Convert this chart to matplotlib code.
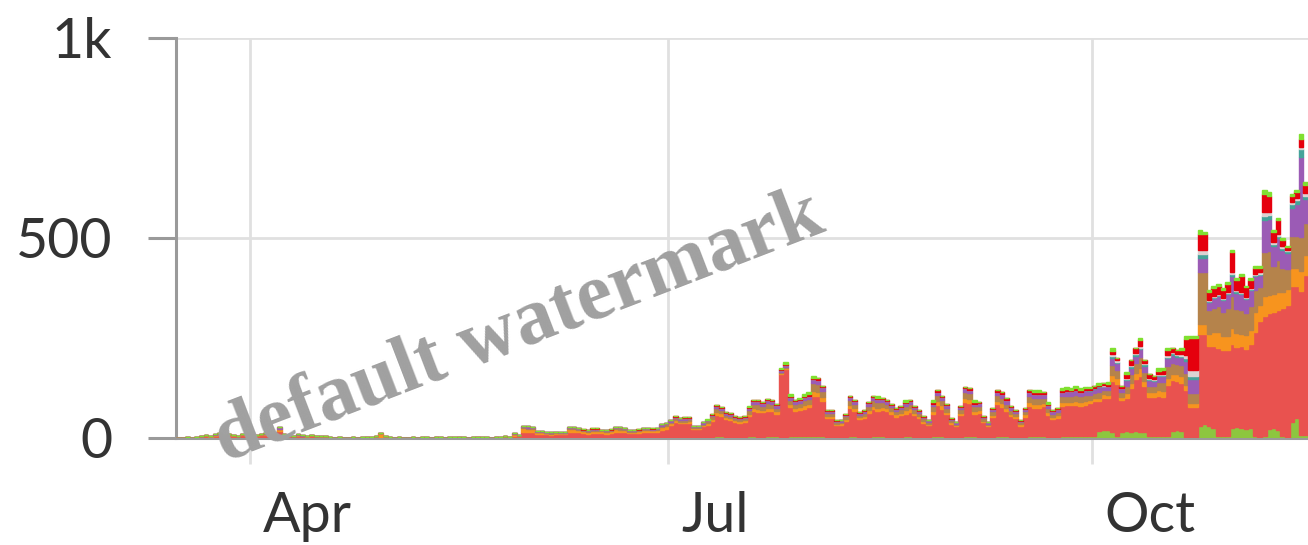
import numpy as np
import pandas as pd
import matplotlib
matplotlib.use('Agg')
import matplotlib.pyplot as plt
import matplotlib.dates as mdates
import matplotlib.transforms as mtrans

plt.rcParams['font.family'] = ['Lato', 'DejaVu Sans']

# daily values, one entry per day starting 16 Mar
green = ([0] * 73
         + [0, 0, 0, 0, 0, 1, 1, 1, 1, 1, 1, 1, 1, 1, 1, 1, 1, 1, 1, 1, 1, 1, 1, 1, 2, 2, 2, 2, 2, 2, 2, 2, 2, 2]
         + [2, 2, 2]
         + [3, 3, 2, 2, 2, 3, 3, 4, 4, 3]
         + [3, 3, 3, 3, 4, 4, 3, 3, 4, 4]
         + [4, 3, 3, 4, 4, 4, 4, 4, 4, 4]
         + [4, 3, 3, 2, 2, 3, 4, 4, 3, 3]
         + [3, 4, 4, 4, 3, 3, 3, 3, 4, 4]
         + [3, 3, 3, 2, 4, 4, 4, 3, 3, 2]
         + [3, 4, 4, 4, 3, 3, 2, 3, 4, 4]
         + [4, 3, 3, 2, 3, 4, 4, 4, 4, 3]
         + [3, 3, 5, 4, 4, 5, 4, 5]
         + [5, 5, 18, 20, 20, 15, 5, 15, 18, 15]
         + [18, 15, 15, 5, 6, 6, 5, 6, 18, 20]
         + [18, 2, 2, 2, 30, 35, 30, 25, 5, 5]
         + [5, 25, 28, 25, 22, 25, 5, 3, 5, 22]
         + [25, 20, 5, 3, 40, 50, 8, 8])

red = ([1, 1, 1, 1, 1]
       + [4, 5, 3, 6, 8, 5, 7, 5, 4, 7, 6, 9, 5, 7, 8, 5, 6, 18, 7, 5, 4, 6, 5, 3, 5, 4, 3, 3]
       + [1, 1, 1, 1, 1, 1, 1, 1, 2, 1, 2, 2, 2, 1, 1, 1, 1, 1, 1, 1, 1, 1, 1, 2, 1, 1, 1, 1, 2, 1, 1, 1, 2, 1, 1, 1, 2, 1, 2, 2]
       + [6, 4, 14, 14, 14, 9, 9, 8, 7, 8, 8, 8, 14, 14, 13, 11, 10, 12, 12, 11, 10, 11, 14, 14, 13, 10, 10, 11, 12, 12, 12, 13, 18, 20]
       + [31, 37, 35]
       + [34, 35, 20, 20, 27, 30, 40, 54, 52, 44]
       + [41, 37, 35, 37, 51, 63, 62, 61, 64, 64]
       + [56, 157, 169, 73, 63, 65, 69, 73, 101, 100]
       + [89, 46, 47, 30, 31, 40, 70, 63, 44, 47]
       + [60, 68, 63, 65, 65, 58, 50, 54, 57, 62]
       + [54, 46, 35, 30, 56, 78, 69, 56, 32, 27]
       + [54, 85, 83, 56, 60, 36, 27, 49, 80, 74]
       + [63, 51, 46, 28, 50, 77, 71, 71, 75, 54]
       + [44, 48, 76, 78, 78, 78, 77, 78]
       + [83, 87, 75, 81, 79, 128, 130, 79, 83, 109]
       + [129, 141, 114, 98, 96, 100, 98, 127, 126, 123]
       + [120, 117, 75, 75, 230, 225, 200, 205, 220, 215]
       + [215, 210, 200, 205, 200, 210, 260, 290, 300, 290]
       + [290, 300, 320, 330, 340, 330, 360, 400])

orange = ([0, 0, 1, 0, 1]
          + [1, 2, 1, 2, 2, 1, 2, 2, 1, 2, 2, 3, 2, 2, 2, 1, 2, 5, 2, 2, 1, 2, 1, 1, 2, 1, 1, 1]
          + [1, 0, 1, 0, 0, 1, 0, 1, 1, 1, 4, 10, 2, 1, 0, 1, 0, 0, 1, 0, 1, 1, 0, 1, 1, 0, 1, 1, 1, 1, 0, 1, 1, 1, 1, 0, 1, 1, 2, 1]
          + [3, 2, 10, 9, 8, 4, 4, 3, 3, 4, 3, 3, 7, 7, 6, 5, 4, 5, 5, 5, 4, 5, 7, 6, 6, 4, 4, 5, 5, 5, 5, 5, 7, 7]
          + [4, 5, 4]
          + [4, 4, 3, 3, 3, 4, 5, 7, 6, 5]
          + [5, 4, 4, 4, 6, 8, 8, 7, 8, 8]
          + [7, 3, 3, 8, 8, 8, 9, 9, 12, 12]
          + [10, 6, 6, 4, 4, 5, 8, 8, 5, 6]
          + [7, 8, 8, 8, 7, 7, 6, 6, 8, 8]
          + [6, 6, 5, 4, 8, 10, 9, 7, 4, 3]
          + [6, 10, 10, 8, 7, 4, 3, 6, 9, 9]
          + [8, 6, 5, 4, 6, 9, 9, 9, 9, 7]
          + [6, 6, 9, 9, 9, 10, 9, 10]
          + [8, 8, 8, 8, 8, 15, 14, 8, 12, 14]
          + [16, 18, 14, 12, 12, 14, 14, 18, 16, 16]
          + [16, 14, 10, 10, 25, 25, 30, 35, 40, 35]
          + [35, 40, 35, 30, 35, 35, 50, 40, 50, 45]
          + [45, 45, 40, 40, 45, 45, 50, 50])

brown = ([0] * 73
         + [1, 1, 3, 3, 3, 2, 2, 1, 1, 1, 1, 1, 3, 3, 3, 2, 2, 3, 3, 2, 2, 2, 3, 3, 2, 2, 2, 2, 3, 3, 2, 3, 4, 5]
         + [4, 5, 5]
         + [5, 5, 2, 2, 4, 5, 6, 9, 8, 6]
         + [6, 5, 5, 5, 8, 10, 12, 10, 12, 10]
         + [9, 3, 3, 10, 10, 10, 12, 12, 20, 20]
         + [15, 7, 7, 4, 4, 6, 12, 10, 6, 7]
         + [10, 14, 14, 12, 10, 9, 8, 9, 11, 11]
         + [9, 8, 6, 5, 11, 15, 12, 10, 5, 4]
         + [9, 16, 15, 11, 10, 6, 4, 9, 14, 13]
         + [11, 9, 8, 5, 8, 14, 15, 15, 13, 10]
         + [8, 8, 14, 15, 14, 15, 14, 15]
         + [12, 12, 14, 10, 12, 25, 22, 12, 18, 22]
         + [25, 28, 22, 16, 16, 20, 22, 28, 28, 26]
         + [28, 30, 25, 25, 130, 130, 60, 60, 65, 60]
         + [70, 80, 60, 60, 55, 60, 55, 45, 110, 110]
         + [70, 80, 60, 50, 80, 80, 85, 80])

purple = ([0] * 5
          + [1, 1, 1, 1, 2, 1, 1, 1, 1, 2, 1, 2, 1, 1, 2, 1, 1, 5, 1, 1, 1, 1, 1, 1, 1, 1, 0, 1]
          + [0] * 40
          + [2, 1, 2, 3, 2, 2, 1, 2, 2, 2, 2, 2, 2, 2, 2, 2, 2, 2, 2, 2, 2, 2, 2, 3, 2, 1, 1, 1, 2, 2, 2, 2, 3, 3]
          + [3, 4, 3]
          + [4, 4, 2, 2, 3, 3, 4, 6, 6, 5]
          + [5, 4, 4, 4, 6, 7, 7, 6, 7, 7]
          + [6, 4, 4, 8, 7, 7, 8, 8, 10, 10]
          + [9, 5, 5, 3, 3, 4, 8, 7, 5, 5]
          + [7, 8, 8, 8, 7, 6, 6, 6, 7, 7]
          + [6, 5, 4, 3, 7, 9, 8, 6, 4, 3]
          + [6, 9, 9, 7, 7, 4, 3, 6, 9, 9]
          + [10, 8, 6, 4, 6, 12, 12, 12, 10, 8]
          + [7, 7, 12, 12, 12, 12, 12, 12]
          + [10, 10, 12, 10, 10, 18, 16, 10, 14, 16]
          + [18, 20, 16, 14, 12, 15, 16, 20, 20, 18]
          + [20, 30, 35, 35, 35, 35, 20, 25, 25, 30]
          + [35, 50, 40, 40, 35, 40, 35, 30, 80, 80]
          + [50, 55, 45, 40, 70, 80, 200, 60])

teal = ([0] * 198
        + [2, 2, 2, 2, 2, 4, 4, 2, 3, 4]
        + [4, 4, 3, 3, 3, 3, 3, 4, 4, 4]
        + [4, 6, 8, 8, 10, 10, 3, 3, 3, 3]
        + [3, 5, 4, 3, 3, 3, 3, 3, 10, 10]
        + [5, 5, 5, 4, 10, 10, 20, 8])

grey = ([0] * 198
        + [0, 2, 0, 2, 0, 4, 3, 0, 2, 3]
        + [3, 4, 3, 2, 2, 3, 3, 4, 3, 3]
        + [3, 8, 15, 15, 10, 10, 2, 2, 3, 3]
        + [3, 5, 4, 3, 3, 3, 3, 3, 10, 8]
        + [5, 5, 5, 3, 5, 5, 5, 6])

crimson = ([0] * 73
           + [0, 0, 1, 1, 1, 0, 1, 0, 0, 0, 0, 0, 1, 1, 1, 1, 1, 1, 1, 0, 1, 1, 1, 1, 1, 1, 1, 1, 1, 1, 1, 1, 1, 1]
           + [1, 2, 1]
           + [2, 1, 1, 1, 1, 1, 2, 2, 2, 2]
           + [2, 2, 1, 2, 2, 3, 3, 3, 3, 2]
           + [3, 2, 2, 3, 3, 3, 3, 3, 4, 4]
           + [3, 3, 2, 2, 1, 2, 3, 3, 2, 2]
           + [3, 3, 3, 3, 3, 2, 2, 2, 3, 3]
           + [2, 2, 2, 1, 3, 4, 3, 3, 2, 1]
           + [2, 4, 4, 3, 3, 2, 1, 2, 4, 6]
           + [4, 3, 2, 2, 2, 4, 4, 4, 4, 3]
           + [2, 3, 4, 4, 4, 4, 4, 4]
           + [4, 4, 4, 4, 4, 8, 6, 4, 10, 12]
           + [12, 15, 8, 10, 8, 6, 8, 12, 10, 10]
           + [10, 40, 80, 80, 40, 40, 20, 20, 20, 20]
           + [20, 50, 25, 40, 25, 20, 15, 12, 45, 40]
           + [25, 35, 15, 7, 15, 15, 20, 20])

lime = ([0] * 110
        + [0, 0, 0, 0, 0, 2, 0, 0, 0, 0]
        + [0, 0, 0, 0, 3, 0, 0, 0, 0, 0]
        + [0, 3, 6, 4, 0, 3, 5, 6, 4, 0]
        + [0] * 10
        + [0, 0, 5, 0, 0, 0, 0, 0, 5, 0]
        + [0, 0, 0, 0, 6, 0, 0, 0, 0, 0]
        + [0, 0, 0, 6, 0, 0, 0, 0, 0, 0]
        + [0, 0, 0, 0, 0, 0, 5, 5, 0, 5]
        + [0, 0, 5, 6, 4, 6, 5, 4]
        + [4, 0, 4, 0, 5, 8, 0, 0, 5, 0]
        + [0, 5, 0, 0, 0, 8, 6, 6, 0, 0]
        + [6, 8, 5, 5, 10, 5, 5, 5, 4, 4]
        + [4, 5, 4, 4, 2, 4, 4, 4, 10, 10]
        + [5, 5, 5, 3, 5, 5, 12, 8])

series = [green, red, orange, brown, purple, teal, grey, crimson, lime]
colors = ['#8dc63f', '#e9524f', '#f7941e', '#b5834b', '#9b5bb5',
          '#45a39a', '#dcd3d3', '#e5000d', '#80e030']

n = len(red)
dates = pd.date_range('2020-03-16', periods=n, freq='D')

fig = plt.figure(figsize=(13.08, 5.45), dpi=100)
ax = fig.add_axes([176 / 1308, 107 / 545, 1 - 176 / 1308, 400 / 545])

# stacked daily bars
bottom = np.zeros(n)
for vals, col in zip(series, colors):
    vals = np.array(vals, dtype=float)
    ax.bar(dates, vals, width=1.0, bottom=bottom, align='edge',
           color=col, edgecolor=col, linewidth=1.0, zorder=3)
    bottom += vals

ax.set_xlim(dates[0], dates[0] + pd.Timedelta(days=246))
ax.set_ylim(0, 1000)

ax.set_yticks([0, 500, 1000])
ax.set_yticklabels(['0', '500', '1k'])
ax.xaxis.set_major_locator(mdates.MonthLocator(bymonth=[1, 4, 7, 10]))
ax.xaxis.set_major_formatter(mdates.DateFormatter('%b'))

ax.grid(True, color='#e0e0e0', linewidth=2, zorder=0)
ax.set_axisbelow(True)
for side in ['top', 'right']:
    ax.spines[side].set_visible(False)
ax.spines['left'].set_color('#9a9a9a')
ax.spines['left'].set_linewidth(2.2)
ax.spines['bottom'].set_color('#9a9a9a')
ax.spines['bottom'].set_linewidth(2.2)

ax.tick_params(axis='y', length=20, width=2.2, color='#9a9a9a', pad=26,
               labelsize=40, labelcolor='#333333')
ax.tick_params(axis='x', length=19, width=2, color='#e0e0e0', pad=19,
               labelsize=40, labelcolor='#333333')

# month labels sit to the right of their gridline
offset = mtrans.ScaledTranslation(13 / 100, 0, fig.dpi_scale_trans)
for lab in ax.get_xticklabels():
    lab.set_horizontalalignment('left')
    lab.set_transform(lab.get_transform() + offset)

fig.text(0.397, 0.397, 'default watermark', rotation=21, fontsize=58,
         fontweight='bold', family='Liberation Serif', color='#a0a0a0',
         ha='center', va='center', zorder=10)

fig.savefig('out.png', dpi=100)
